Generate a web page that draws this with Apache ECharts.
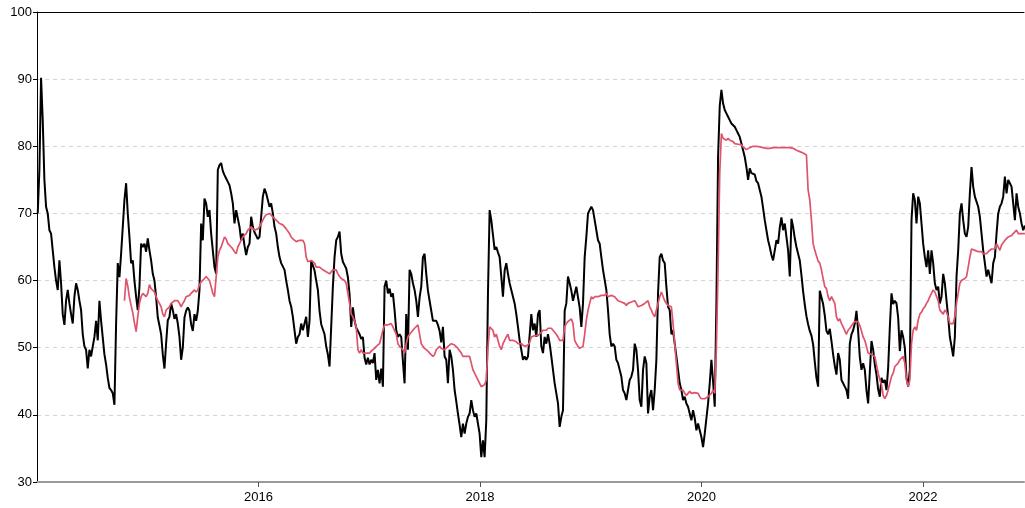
<!DOCTYPE html>
<html>
<head>
<meta charset="utf-8">
<script src="https://cdn.jsdelivr.net/npm/echarts@6/dist/echarts.min.js"></script>
<style>
  html, body { margin: 0; padding: 0; background: #fff; }
  #chart { width: 1025px; height: 508px; }
</style>
</head>
<body>
<div id="chart"></div>
<script>
// sampling: one value every 5.5 days, dates as decimal years
const step = 5.5 / 365.25
const blackStart = 2014.0066
const redStart = 2014.7896

const yTicks = [30, 40, 50, 60, 70, 80, 90, 100]
const xTicks = [2016, 2018, 2020, 2022]

const blackValues = [
  70, 76.5, 90.2, 83.9, 75, 71, 70, 67.5,
  67, 64.5, 62, 60, 58.6, 63, 59.6, 55, 53.4, 57,
  58.6, 56.6, 55, 53.6, 57.6, 59.6, 58.6, 57, 55.6, 52,
  50.2, 49.7, 46.9, 49.7, 48.7, 50.2, 51.6, 54, 51.1, 57,
  54, 51.5, 49, 47.5, 45.5, 44, 43.7, 43.2, 41.5, 53.6,
  62.6, 60.5, 64, 68, 72, 74.5, 70, 66.5, 62.6, 63,
  60, 57.6, 55.6, 59.1, 65.5, 65, 65.5, 64.3, 66.3, 64.5,
  63, 61, 60, 57.5, 54.5, 53.3, 52, 49, 46.9, 50.7,
  54.1, 54.6, 56.6, 55.6, 54.3, 55, 53.6, 51.6, 48.2, 50,
  54.5, 55.5, 56, 55.5, 53.5, 52.5, 55, 54, 55.5, 58.6,
  68.5, 66, 72.2, 71.5, 69.5, 70.5, 67, 64.5, 62, 61,
  76.5, 77.2, 77.5, 76.3, 75.7, 75.2, 74.7, 74.2, 73, 71.5,
  68.5, 70.5, 70.7, 68, 66, 67, 65.2, 63.8, 65, 65.5,
  69.5, 68, 67.2, 66.7, 66.2, 66.5, 69.5, 72.5, 73.7, 73,
  72, 71, 71.5, 70, 68, 67, 65, 63.5, 62.6, 62.6,
  61.6, 60, 58.6, 57, 56.1, 54.6, 52.6, 50.6, 51.6, 52,
  53.6, 52.6, 53.6, 54.6, 51.6, 54, 63, 63.2, 61.5, 60,
  58.6, 55.5, 53.5, 53.5, 52, 50.2, 49, 47.2, 47.4, 59.1,
  63.5, 66, 66.5, 67.3, 64, 62.8, 62.3, 61.8, 60.5, 58,
  53.1, 56, 54, 53, 52.9, 52, 51.3, 51.6, 48.5, 47.5,
  48.5, 47.5, 48.2, 47.7, 49.2, 45.2, 46.7, 44.7, 46.9, 44.2,
  59.1, 60, 58.1, 58.8, 57.6, 58.1, 55.6, 52.6, 51.6, 52,
  51.6, 48, 44.7, 55, 49.7, 61.6, 61, 59.6, 58.6, 57,
  54.6, 57.5, 59.1, 63.5, 64, 61, 58.5, 57, 55.5, 54,
  54.2, 54, 53.4, 52.5, 50.8, 53.1, 48.7, 48.2, 44.7, 49.7,
  48.7, 46.7, 43.7, 42, 40.2, 38.5, 36.7, 38.7, 37.2, 38.7,
  39.7, 40.2, 42.2, 40.7, 39.7, 40.2, 38.7, 37.2, 33.7, 36.2,
  33.7, 39.2, 58, 70.5, 69, 66.8, 64.6, 65, 64.2, 63.5,
  60.6, 57.6, 61.5, 62.6, 61, 59.6, 58.6, 57.6, 56.6, 55,
  53.1, 51.1, 49.7, 48.2, 48.7, 48.2, 48.7, 48.7, 55, 52.6,
  53.6, 51.6, 55, 55.6, 50.2, 49.2, 51.6, 50.6, 52, 50.6,
  48.7, 46.7, 44.7, 43.2, 41.7, 38.2, 39.7, 40.7, 55.5, 56.6,
  60.6, 59.6, 58.5, 57, 56.8, 59.1, 57.5, 56, 53.1, 56.6,
  63.5, 66.5, 70, 70, 71, 70.5, 69, 67.5, 66, 65.5,
  63.5, 61.6, 61.6, 58.6, 55.6, 52, 50.2, 50.6, 50.2, 48.2,
  47.7, 46.7, 45.7, 43.7, 43.2, 42.2, 43.7, 45.2, 45.7, 46.7,
  50.6, 49.7, 46.7, 42.2, 41.2, 46.7, 48.7, 47.7, 40.2, 42.7,
  43.7, 40.7, 43.7, 48.2, 58.1, 63.5, 64, 63, 62.6, 59.1,
  56.1, 55.6, 52, 52.6, 50.6, 48.7, 46.7, 44.7, 43.7, 42.2,
  42.7, 41.7, 41.2, 40.2, 39.2, 40.7, 39.5, 37.7, 38.7, 37.7,
  36.7, 35.2, 37.2, 37.2, 41.7, 44.7, 48.2, 45, 41.2, 56.6,
  78.4, 86, 88.4, 86.4, 85.4, 84.9, 84.4, 83.9, 83.4, 83.4,
  82.9, 82.4, 81.9, 81.4, 80.4, 79.4, 78.4, 76.9, 75, 76.7,
  76, 76.2, 75.8, 74.8, 74.5, 73.5, 72.5, 70.8, 69, 67.5,
  66, 65, 63.8, 63, 64.5, 66, 65.5, 67.9, 69.4, 67.5,
  68.5, 66.5, 64.5, 60.6, 69.2, 68, 66.3, 65, 64, 63,
  60.8, 58.4, 56.4, 54.7, 53.5, 52.5, 51.8, 50.5, 47.9, 45.5,
  44.2, 58.5, 58.5, 56.5, 54.8, 52.5, 52, 52.8, 51, 49,
  47.3, 46, 49.2, 48.2, 45.2, 44.7, 44.2, 43.7, 42.4, 50.6,
  52, 52.6, 53.6, 55.5, 52.5, 48.6, 46.7, 47.7, 46.7, 43.7,
  41.7, 41.7, 51, 49.7, 47.5, 46, 43.8, 42.7, 45.5, 44.8,
  45.2, 43.7, 47, 53, 58.1, 56.5, 57, 56.6, 54.5, 49.5,
  52.6, 51.6, 50, 45.5, 44.2, 46.7, 69, 73, 72, 68.5,
  72.5, 71.5, 68.5, 65.5, 63.5, 62, 64.5, 61, 64.5, 62.6,
  59.6, 58.6, 59.1, 56.6, 57.6, 61, 59.6, 57, 54.6, 51.6,
  50.2, 48.7, 51.6, 60.6, 64.5, 70, 71.5, 69, 67, 66.5,
  68, 73, 76.9, 74, 72.5, 72.5, 71, 69.5, 67, 64.5,
  62.6, 60.6, 61.6, 60.6, 59.6, 62.6, 63.5, 67, 70, 71,
  71.5, 72.5, 75.5, 73, 75, 74.5, 74, 71.5, 69, 73,
  71, 70, 68.5, 67.5, 68.2
]

const redValues = [
  57, 60.3, 59.2, 57.5, 56.3, 55.2,
  53.7, 52.4, 54.6, 56.6, 57.6, 58.1, 58.1, 57.6, 58.1, 59.4,
  58.8, 58.6, 58.3, 57.6, 57, 56.6, 56.1, 55, 54.6, 55.6,
  55.8, 56.1, 56.6, 56.8, 57, 56.8, 57, 56.6, 56.1, 56.6,
  57, 57.6, 57.6, 57.8, 58.1, 58.3, 58.6, 58.3, 58.6, 59.4,
  59.8, 60, 60.3, 60.6, 60.3, 60, 59.1, 58.1, 57.6, 57.6,
  63.5, 64.5, 65, 65, 66.5, 66.2, 65.5, 65.3, 65, 64.7,
  64.3, 64, 65, 65.5, 66, 66.5, 66.5, 67, 67.5, 67.5,
  68, 68, 67.5, 67.5, 67.7, 68, 68.5, 69, 69.5, 69.8,
  70, 70, 69.8, 69.5, 69.3, 69, 68.8, 68.5, 68.3, 68.3,
  68, 67.7, 67.5, 67, 66.5, 66.2, 66, 65.8, 65.8, 66,
  66, 66, 65.5, 63.5, 62.8, 62.8, 63, 62.8, 62.6, 62,
  62, 62, 61.8, 61.6, 61.6, 61.3, 61.3, 61, 60.8, 61.6,
  61.8, 61.6, 61, 60.6, 60.3, 60.3, 60, 59.6, 58.1, 56.6,
  55, 54.6, 54, 53.1, 49.7, 49.2, 49.7, 49.2, 49.3, 49.2,
  49, 49.2, 49.5, 49.7, 49.9, 50.2, 50.2, 50.6, 51.6, 52.6,
  53.4, 53.4, 53.4, 53.4, 53.6, 53.1, 52.9, 52, 50.6, 50.2,
  50.2, 49.7, 49.2, 50.6, 51.6, 52, 52.3, 52.6, 52.9, 53.1,
  53.4, 53.4, 50.6, 50.2, 49.9, 49.7, 49.5, 49.2, 49, 48.7,
  49, 49.7, 49.9, 50.2, 49.9, 49.7, 49.7, 49.9, 50.2, 50.4,
  50.6, 50.4, 50.4, 50.2, 49.9, 49.7, 49.2, 48.7, 48.7, 48.7,
  48.7, 48.7, 47.7, 46.7, 46.2, 45.7, 45.2, 44.7, 44.2, 44.2,
  44.5, 45.2, 50, 53.1, 53.1, 52.6, 51.6, 52, 51.1, 50.2,
  49.7, 50.6, 51.1, 51.6, 52, 51.1, 50.9, 51.1, 50.9, 50.9,
  50.6, 50.6, 50.6, 50.4, 50.2, 50.2, 50.4, 50.8, 51.6, 51.6,
  51.8, 51.6, 51.8, 52, 52.3, 52.6, 52.6, 52.6, 52.9, 52.9,
  52.9, 52.6, 52.3, 52, 51.6, 51.1, 50.9, 51.1, 53.1, 53.6,
  53.9, 54.1, 54.3, 53.6, 51.1, 50.6, 50.2, 49.9, 49.7, 50.2,
  52, 54.1, 55.6, 56.6, 57.6, 57.3, 57.6, 57.6, 57.6, 57.8,
  57.8, 57.8, 57.8, 58.1, 57.6, 57.6, 57.8, 57.8, 57.6, 57.3,
  57, 57, 56.8, 56.6, 56.6, 56.3, 56.6, 56.6, 56.8, 56.6,
  57, 56.6, 56.1, 56.1, 56.3, 56.1, 56.6, 56.6, 57, 56.1,
  55.6, 55, 54.6, 54.6, 56.6, 57.6, 58.3, 58.1, 57, 56.6,
  56.3, 56.1, 56.1, 53.6, 50.6, 47.7, 44.7, 43.7, 43.5, 43.7,
  43.2, 42.9, 43.2, 43.5, 43.2, 43.2, 43.3, 43.2, 43.2, 42.7,
  42.4, 42.2, 42.4, 42.4, 42.7, 42.9, 43.2, 43.7, 43.2, 50,
  61.6, 76, 81.9, 81.2, 81.2, 80.9, 81.2, 80.9, 80.7, 80.7,
  80.4, 80.4, 80.3, 80.3, 80.2, 79.9, 79.7, 79.5, 79.7, 79.8,
  79.9, 80, 80.1, 80, 79.9, 79.9, 79.9, 79.8, 79.8, 79.7,
  79.7, 79.7, 79.7, 79.8, 79.8, 79.8, 79.8, 79.8, 79.8, 79.8,
  79.8, 79.8, 79.8, 79.8, 79.8, 79.7, 79.5, 79.4, 79.3, 79.2,
  79.2, 79, 78.9, 78.7, 73.5, 72, 69, 65.5, 64.5, 63.7,
  62.9, 62.6, 61.6, 60.3, 59.1, 58.8, 57.6, 57, 57.6, 57.6,
  56.6, 54.6, 54, 54.3, 53.6, 53.1, 52.9, 52, 52.6, 52.9,
  53.1, 53.6, 53.9, 54.1, 53.9, 53.3, 52.5, 51.6, 51.1, 51.1,
  49.2, 49.2, 49, 49, 48.7, 48.7, 46.2, 45.2, 44.5, 42.9,
  42.4, 42.9, 43.7, 44.7, 45.7, 46.2, 47.2, 47.4, 47.7, 48.2,
  48.2, 48.7, 47.7, 45.2, 44.2, 45.2, 50.6, 52.6, 53.1, 52.6,
  54.1, 55, 55.3, 55.8, 56.1, 56.6, 57, 57.6, 58.1, 58.6,
  58.3, 58.1, 57, 55.6, 55.3, 55, 55.6, 55.3, 54.6, 53.6,
  53.6, 53.6, 54.6, 56.6, 58.1, 59.6, 60, 60, 60.3, 60.6,
  62, 63.5, 64.7, 64.7, 64.5, 64.5, 64.3, 64.5, 64.3, 64,
  63.8, 64, 64.3, 64.5, 64.7, 64.5, 64.7, 65.5, 65, 64.5,
  65.3, 65.5, 66, 66.2, 66.5, 66.5, 66.7, 67, 67.2, 67.5,
  67, 67, 67, 67.1, 67
]

let myChart = echarts.init(document.getElementById('chart'))

let xMin = 2014
let xMax = 2022.913

let option = {
  animation: false,
  grid: { left: 37, right: 1, top: 12, bottom: 26 },
  xAxis: [
    {
      type: 'value',
      min: xMin,
      max: xMax,
      interval: 2,
      axisLine: { lineStyle: { color: '#999999', width: 2 } },
      axisTick: { length: 5, lineStyle: { color: '#555555' } },
      axisLabel: {
        color: '#000', fontSize: 13, margin: 9,
        fontFamily: 'Liberation Sans, Arial, sans-serif',
        showMinLabel: false, showMaxLabel: false,
        formatter: v => xTicks.includes(v) ? String(v) : ''
      },
      splitLine: { show: false }
    },
    {
      // top border
      type: 'value',
      position: 'top',
      min: xMin,
      max: xMax,
      axisLine: { show: true, lineStyle: { color: '#000', width: 1 } },
      axisTick: { show: false },
      axisLabel: { show: false },
      splitLine: { show: false }
    }
  ],
  yAxis: {
    type: 'value',
    min: yTicks[0],
    max: yTicks[yTicks.length - 1],
    interval: 10,
    axisLine: { show: true, lineStyle: { color: '#000', width: 1 } },
    axisTick: { show: true, length: 4, lineStyle: { color: '#000' } },
    axisLabel: {
      color: '#000', fontSize: 13, margin: 5,
      fontFamily: 'Liberation Sans, Arial, sans-serif'
    },
    splitLine: { lineStyle: { color: '#d4d4d4', width: 1, type: [4, 4] } }
  },
  series: [
    {
      name: 'value',
      type: 'line',
      xAxisIndex: 0,
      showSymbol: false,
      symbol: 'none',
      lineStyle: { color: '#000', width: 2 },
      data: blackValues.map((v, i) => [blackStart + i * step, v]),
      z: 3
    },
    {
      name: 'average',
      type: 'line',
      xAxisIndex: 0,
      showSymbol: false,
      symbol: 'none',
      lineStyle: { color: '#DF536B', width: 1.7 },
      data: redValues.map((v, i) => [redStart + i * step, v]),
      z: 4
    }
  ]
}
myChart.setOption(option)
</script>
</body>
</html>
